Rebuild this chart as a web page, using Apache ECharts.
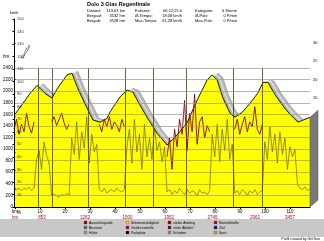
<!DOCTYPE html>
<html><head><meta charset="utf-8">
<script src="https://cdn.jsdelivr.net/npm/echarts@6/dist/echarts.min.js"></script>
<style>html,body{margin:0;padding:0;background:#fff}#c{width:324px;height:241px}</style>
</head><body><div id="c"></div>
<script>
// ---- data ----
const profileKm = [0,3,6,8.8,10,12,14.8,17,20.8,22.8,25,28,31.2,34,36.8,38,42,44.8,47.2,50,52.8,56.8,60.8,64.8,68.8,72.8,76.8,78.8,80.8,83,86,88,91,94,97,99.2,101.2,104,108,110,113.2,118];
const profileHm = [1600,1780,1960,2100,2050,1960,1880,2050,2280,2310,2060,1780,1500,1465,1530,1640,1900,2020,1980,1760,1550,1275,1070,1240,1450,1840,2190,2280,2200,1900,1620,1550,1640,1790,1960,2150,2150,1940,1700,1600,1465,1550];
const speedKmh = [16,14,15,13,15,14,16,13,15,
  38,45,30,52,41,35,
  9,10,9,8,10,9,11,9,
  55,42,68,38,60,47,72,35,58,44,50,
  14,12,15,11,13,14,12,15,13,12,14,
  48,62,35,70,44,58,30,66,40,55,38,63,45,52,36,48,
  12,14,10,13,11,15,12,10,14,11,13,12,9,14,11,12,10,13,
  58,40,66,36,62,45,70,38,50,
  11,13,10,14,12,9,13,11,14,10,12,13,
  52,38,64,44,58,35,60,42,55,30,48,40,46,
  18,15,14,16,13,15];
const pulseKm = [0,1,2,3,4,5,6,7,8, 15,16,17,18,19,20,21,22, 34,35,36,37,38,39,40,41,42,43,44, 61,62,63,64,65,66,67,68,69,70,71,72,73,74,75,76,77,78, 88,89,90,91,92,93,94,95,96,97,98,99];
const pulseVal = [62,70,58,66,60,75,64,59,68, 68,72,65,70,75,67,62,66, 66,60,70,64,72,62,68,65,60,70,64, 40,55,30,62,48,70,58,85,45,75,60,90,50,68,72,55,65,60, 62,70,58,66,72,60,68,64,80,62,58,66];
const markerKm = [9.2,14.8,29.2,44,55.2,68.4,87.2,98.8];
const kmTicks = [0,10,20,30,40,50,60,70,80,90,100,110];
const hmTickKm = [0,10.8,28,45,61.6,79,96,110];
const hmTickLabels = ['hm','853','1262','1500','1952','2745','2962','3457'];
const title = 'Dolo 3 Glas Regenfinale';
const infoLabels = [['Distanz:','Bergauf:','Bergab:'],['Fahrzeit:','Ø-Tempo:','Max-Tempo:'],['Kategorie:','Ø-Puls:','Max-Puls:']];
const infoValues = [['113,63 km','3532 hm','3528 hm'],['06:12:25 h','18,08 km/h','61,28 km/h'],['6 Sterne','0 P/min','0 P/min']];
const legendItems = [
  ['Aussichtspunkt','Brunnen','Hütte'],
  ['Sehenswürdigkeit','Gefahrenstelle','Parkplatz'],
  ['steiler Anstieg','steile Abfahrt','Schotter'],
  ['Kontrollstelle','Ziel','Start']];
const legendColors = [['#8b0000','#2e8b57','#d070a0'],['#e8d000','#c00000','#000000'],['#8b0000','#8b0000','#888888'],['#c00000','#000080','#d0a000']];

// ---- chart ----
const F = 'Liberation Sans';
const chart = echarts.init(document.getElementById('c'), null, {renderer:'canvas'});
const prof = profileKm.map((k,i)=>[k, profileHm[i]]);
const DKM = 2.4, DHM = 30;      // depth of the top band
const WKM = 3.2, WHM = 120;     // depth of the end wall
const band = prof.map(p=>[p[0]+DKM, p[1]+DHM]);
const bandMid = prof.map(p=>[p[0]+DKM/2, p[1]+DHM/2]);
const speed = speedKmh.map((v,i)=>[i, v]);
const pulse = [];
pulseKm.forEach((k,i)=>{ if(i>0 && k-pulseKm[i-1]>1) pulse.push([k-0.5,null]); pulse.push([k,pulseVal[i]]); });
const last = prof[prof.length-1];

const graphics = [];
graphics.push({type:'text', left:87, top:1, style:{text:title, font:'bold 5.5px '+F, fill:'#000'}});
for (let c=0;c<3;c++){
  const lx=[87,135,195][c], vx=[125,182,237][c];
  for (let r=0;r<3;r++){
    const y = 9 + r*5;
    graphics.push({type:'text', x:lx, y:y, style:{text:infoLabels[c][r], font:'4px '+F, fill:'#000'}});
    graphics.push({type:'text', x:vx, y:y, style:{text:infoValues[c][r], font:'4px '+F, fill:'#000', align:'right'}});
  }
}
graphics.push({type:'text', x:3, y:54, style:{text:'hm', font:'4.5px '+F, fill:'#000'}});
graphics.push({type:'text', x:20, y:58, rotation:Math.PI/3, style:{text:'Start/Ziel', font:'4px '+F, fill:'#000'}});
graphics.push({type:'rect', shape:{x:0,y:219,width:324,height:18}, style:{fill:'#c8c8c8'}, z:-1});
for (let c=0;c<4;c++){
  const ix=[84,126,168,214][c];
  for (let r=0;r<3;r++){
    const y=221+r*5;
    graphics.push({type:'rect', shape:{x:ix,y:y,width:3,height:3}, style:{fill:legendColors[c][r], stroke:'#555', lineWidth:0.3}});
    graphics.push({type:'text', x:ix+5, y:y, style:{text:legendItems[c][r], font:'3.5px '+F, fill:'#000'}});
  }
}
graphics.push({type:'text', x:320, y:237, style:{text:'Profil created by GritTour', font:'3.5px '+F, fill:'#000', align:'right'}});

chart.setOption({
  animation:false,
  textStyle:{fontFamily:F},
  grid:[
    {left:14,right:14,top:68,bottom:34},
    {left:14,right:14,top:19,bottom:34},
    {left:14,right:13,top:43,bottom:34}
  ],
  xAxis:[
    {type:'value',gridIndex:0,min:0,max:118,z:10,
     axisLine:{lineStyle:{color:'#000',width:1.2}},
     axisTick:{customValues:kmTicks,length:2,lineStyle:{color:'#000'}},
     splitLine:{show:false},
     axisLabel:{customValues:kmTicks,fontSize:4.5,color:'#000',margin:2,formatter:v=>v===0?'km':String(v)}},
    {type:'value',gridIndex:1,min:0,max:118,show:false},
    {type:'value',gridIndex:2,min:0,max:118,show:false},
    {type:'value',gridIndex:0,min:0,max:118,position:'bottom',offset:6,
     axisLine:{show:false},axisTick:{show:false},splitLine:{show:false},
     axisLabel:{customValues:hmTickKm,fontSize:4.5,color:'#c00000',margin:2,
       formatter:v=>{const i=hmTickKm.indexOf(v);return i>=0?hmTickLabels[i]:'';}}}
  ],
  yAxis:[
    {type:'value',gridIndex:0,min:0,max:2400,interval:200,z:10,
     axisLine:{show:false},axisTick:{show:false},
     axisLabel:{fontSize:4.5,color:'#000',margin:2,formatter:v=>String(v)},
     splitLine:{lineStyle:{color:'#959595',width:0.7}}},
    {type:'value',gridIndex:1,min:0,max:150,interval:10,z:11,
     axisLine:{show:true,lineStyle:{color:'#000',width:1}},
     axisTick:{show:true,length:1.5,lineStyle:{color:'#000'}},
     axisLabel:{inside:true,fontSize:4,color:'#333',margin:3,formatter:v=>v===0?'':String(v)},
     splitLine:{show:false},
     name:'km/h',nameGap:4,nameTextStyle:{fontSize:4,color:'#000'}},
    {type:'value',gridIndex:2,position:'right',min:-15,max:30,interval:5,z:11,
     axisLine:{show:true,lineStyle:{color:'#000',width:0.8}},
     axisTick:{show:true,length:1.5},
     axisLabel:{fontSize:4,color:'#000',margin:2,formatter:v=>v>=15?String(v):''},
     splitLine:{show:false},
     name:'%',nameLocation:'start',nameGap:3,nameTextStyle:{fontSize:4.5,color:'#000',padding:[0,0,0,10]}}
  ],
  series:[
    {type:'line',xAxisIndex:0,yAxisIndex:0,data:band,showSymbol:false,clip:false,z:1,
     lineStyle:{color:'#8f8f8f',width:0.6},areaStyle:{color:'#b8b8b8',opacity:1}},
    {type:'line',xAxisIndex:0,yAxisIndex:0,data:bandMid,showSymbol:false,clip:false,z:1,
     lineStyle:{color:'#e4e4e4',width:1.2}},
    {type:'custom',xAxisIndex:0,yAxisIndex:0,data:[last],clip:false,z:3,
     renderItem:(params,api)=>{
       const top=api.coord([api.value(0),api.value(1)]);
       const bot=api.coord([api.value(0),0]);
       const d0=api.coord([0,0]), d1=api.coord([WKM,WHM]);
       const dx=d1[0]-d0[0], dy=d1[1]-d0[1];
       return {type:'polygon',shape:{points:[top,[top[0]+dx,top[1]+dy],[bot[0]+dx,bot[1]+dy],bot]},
               style:{fill:'#7a7a7a',stroke:'#555',lineWidth:0.5}};
     }},
    {type:'line',xAxisIndex:0,yAxisIndex:0,data:prof,showSymbol:false,z:2,
     lineStyle:{color:'#000',width:0.9},areaStyle:{color:'#ffff00',opacity:1},
     markLine:{silent:true,symbol:'none',label:{show:false},
       lineStyle:{color:'#3d3a00',width:0.8,type:'solid'},
       data:markerKm.map(k=>({xAxis:k}))}},
    {type:'line',xAxisIndex:1,yAxisIndex:1,data:speed,showSymbol:false,z:4,
     lineStyle:{color:'#6b5f00',width:0.7}},
    {type:'line',xAxisIndex:1,yAxisIndex:1,data:pulse,showSymbol:false,connectNulls:false,z:5,
     lineStyle:{color:'#8b0000',width:0.9}}
  ],
  graphic:graphics
});
</script>
</body></html>
